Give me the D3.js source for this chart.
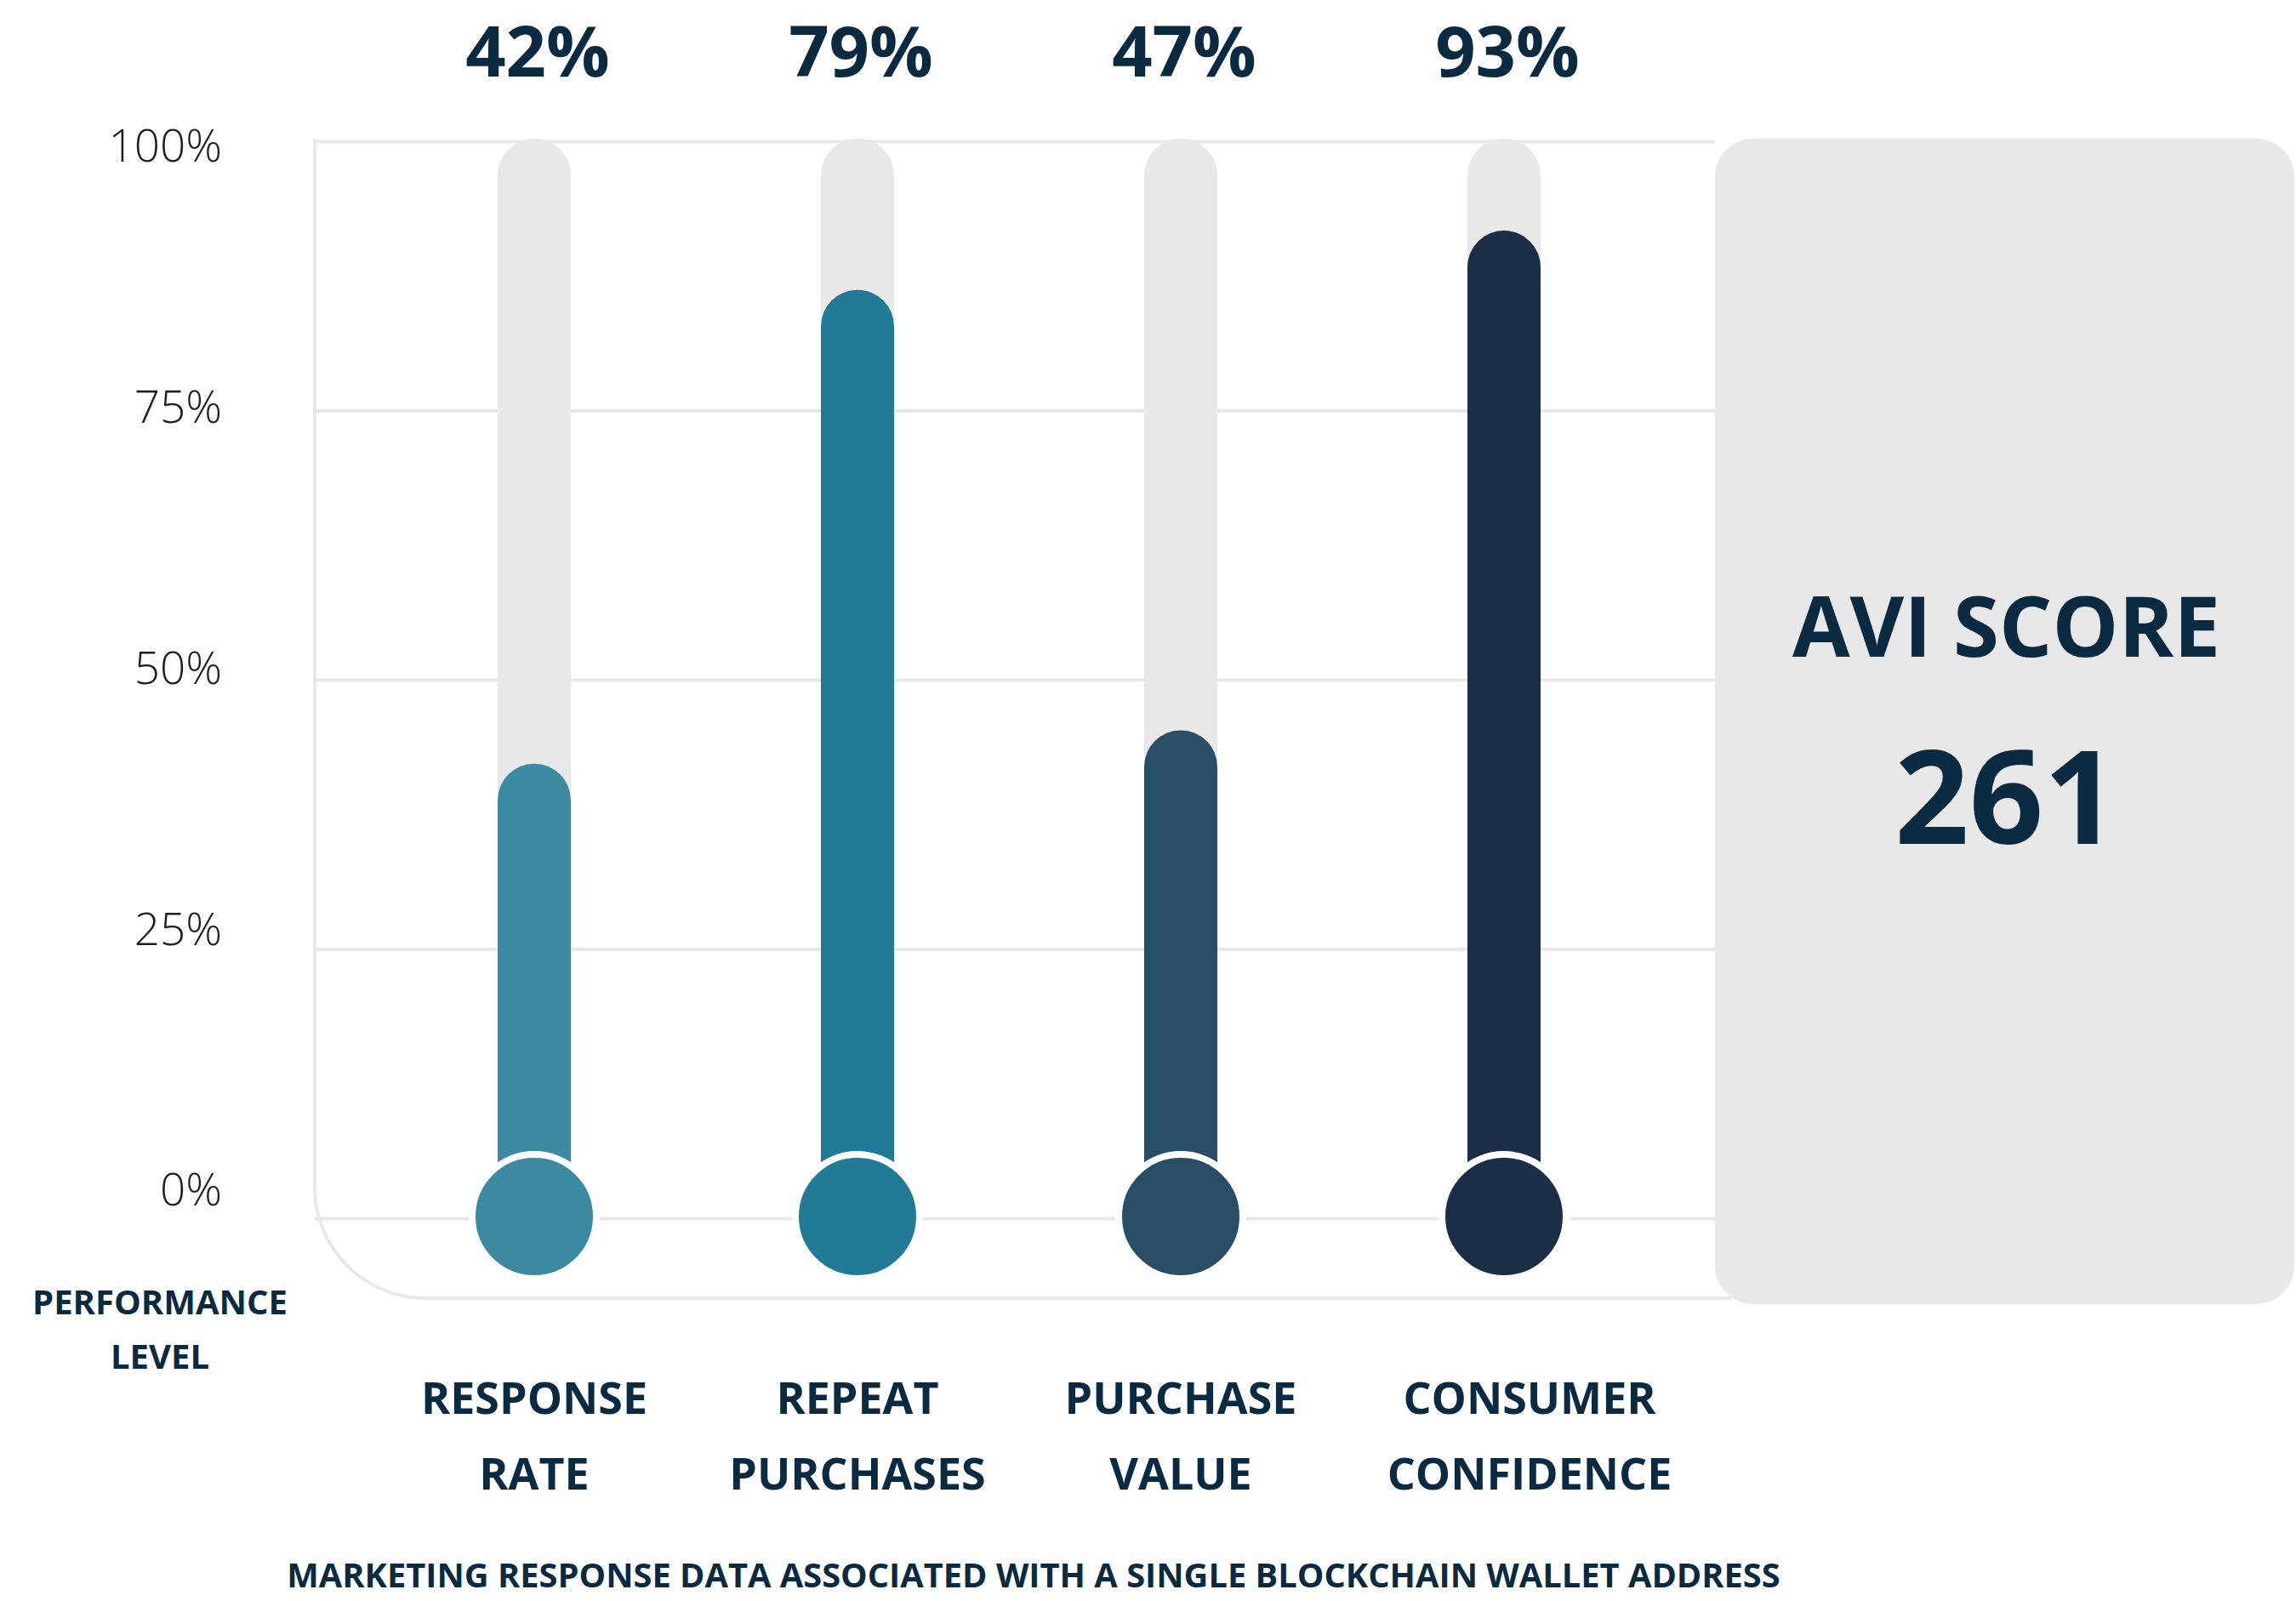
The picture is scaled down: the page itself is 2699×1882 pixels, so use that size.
<!DOCTYPE html>
<html>
<head>
<meta charset="utf-8">
<script src="https://cdn.jsdelivr.net/npm/d3@7"></script>
<style>
  html, body { margin: 0; padding: 0; background: #ffffff; }
  svg { display: block; font-family: "Open Sans", "Noto Sans", sans-serif; }
</style>
</head>
<body>
<div id="chart"></div>
<script>
// values
const categories = ["Response Rate", "Repeat Purchases", "Purchase Value", "Consumer Confidence"];
const categoryLines = [["RESPONSE", "RATE"], ["REPEAT", "PURCHASES"], ["PURCHASE", "VALUE"], ["CONSUMER", "CONFIDENCE"]];
const barLevels = [42.2, 86.2, 45.3, 91.7];      // height of the filled bar, as drawn
const headlineLabels = ["42%", "79%", "47%", "93%"]; // numbers printed above each bar
const yTicks = [0, 25, 50, 75, 100];
const scoreTitle = "AVI SCORE";
const scoreValue = 261;
const axisTitle = ["PERFORMANCE", "LEVEL"];
const caption = "MARKETING RESPONSE DATA ASSOCIATED WITH A SINGLE BLOCKCHAIN WALLET ADDRESS";

window.onload = function() {
    const width = 2699;
    const height = 1882;

    const navy = "#0a2a41";
    const track = "#e8e8e8";
    const palette = ["#3b8aa1", "#227b96", "#284d66", "#1a2e46"];

    const plotLeft = 370;
    const plotRight = 2016;
    const frameBottom = 1526;
    const barWidth = 86;
    const bulbR = 73;
    const labelNudge = [0, 0, 0, 30];

    const svg = d3.select("#chart")
                  .append("svg")
                  .attr("width", width)
                  .attr("height", height);

    const x = d3.scalePoint()
                .domain(categories)
                .range([628, 1768]);

    const y = d3.scaleLinear()
                .domain([0, 100])
                .range([1432, 166]);

    // tick labels sit on a slightly tighter spacing than the grid in the original
    const yLabel = d3.scaleLinear()
                     .domain([0, 100])
                     .range([1400, 173]);

    // grid
    svg.append("g")
       .attr("transform", `translate(${plotLeft},0)`)
       .call(d3.axisLeft(y).tickValues(yTicks).tickSize(-(plotRight - plotLeft)).tickFormat(""))
       .call(g => g.select(".domain").remove())
       .call(g => g.selectAll("line").attr("stroke", track).attr("stroke-width", 4));

    // left / bottom frame with rounded corner
    const frame = d3.path();
    const cr = 130;
    frame.moveTo(plotLeft, 163);
    frame.lineTo(plotLeft, frameBottom - cr);
    frame.arcTo(plotLeft, frameBottom, plotLeft + cr, frameBottom, cr);
    frame.lineTo(plotRight + 20, frameBottom);
    svg.append("path")
       .attr("d", frame.toString())
       .attr("fill", "none")
       .attr("stroke", track)
       .attr("stroke-width", 4);

    // tick labels
    svg.append("g")
       .attr("transform", "translate(261,0)")
       .call(d3.axisLeft(yLabel).tickValues(yTicks).tickSize(0).tickPadding(0).tickFormat(d => d + "%"))
       .call(g => g.select(".domain").remove())
       .call(g => g.selectAll("text")
                   .attr("font-family", "'Open Sans', sans-serif")
                   .attr("font-size", 53)
                   .attr("font-weight", 300)
                   .attr("fill", "#1e1e1e"));

    // score panel
    svg.append("rect")
       .attr("x", plotRight)
       .attr("y", 163)
       .attr("width", width - 2 - plotRight)
       .attr("height", 1533 - 163)
       .attr("rx", 45)
       .attr("fill", track);

    const panelMid = (plotRight + width - 2) / 2;
    svg.append("text")
       .attr("x", panelMid + 2)
       .attr("y", 772)
       .attr("text-anchor", "middle")
       .attr("font-size", 98)
       .attr("font-weight", 700)
       .attr("fill", navy)
       .text(scoreTitle);

    svg.append("text")
       .attr("x", panelMid + 2)
       .attr("y", 992)
       .attr("text-anchor", "middle")
       .attr("font-size", 153)
       .attr("font-weight", 700)
       .attr("fill", navy)
       .text(scoreValue);

    // tracks
    svg.selectAll("rect.track")
       .data(categories)
       .enter()
       .append("rect")
       .attr("class", "track")
       .attr("x", d => x(d) - barWidth / 2)
       .attr("y", y(100) - 3)
       .attr("width", barWidth)
       .attr("height", y(0) - y(100) + 3)
       .attr("rx", barWidth / 2)
       .attr("fill", track);

    // filled bars
    svg.selectAll("rect.bar")
       .data(categories)
       .enter()
       .append("rect")
       .attr("class", "bar")
       .attr("x", d => x(d) - barWidth / 2)
       .attr("y", (d, i) => y(barLevels[i]))
       .attr("width", barWidth)
       .attr("height", (d, i) => y(0) - y(barLevels[i]))
       .attr("rx", barWidth / 2)
       .attr("fill", (d, i) => palette[i]);

    // bulbs
    svg.selectAll("circle.bulb")
       .data(categories)
       .enter()
       .append("circle")
       .attr("class", "bulb")
       .attr("cx", d => x(d))
       .attr("cy", y(0) - 2)
       .attr("r", bulbR)
       .attr("fill", (d, i) => palette[i])
       .attr("stroke", "#ffffff")
       .attr("stroke-width", 8);

    // headline percentages
    svg.selectAll("text.headline")
       .data(categories)
       .enter()
       .append("text")
       .attr("class", "headline")
       .attr("x", d => x(d) + 4)
       .attr("y", 90)
       .attr("text-anchor", "middle")
       .attr("font-size", 83)
       .attr("font-weight", 700)
       .attr("fill", navy)
       .text((d, i) => headlineLabels[i]);

    // category labels
    const catLabels = svg.selectAll("text.cat")
                         .data(categories)
                         .enter()
                         .append("text")
                         .attr("class", "cat")
                         .attr("text-anchor", "middle")
                         .attr("font-size", 52)
                         .attr("font-weight", 700)
                         .attr("fill", navy);

    catLabels.each(function(d, i) {
        const t = d3.select(this);
        categoryLines[i].forEach((line, k) => {
            t.append("tspan")
             .attr("x", x(d) + labelNudge[i])
             .attr("y", 1662 + k * 89)
             .text(line);
        });
    });

    // axis title
    const at = svg.append("text")
                  .attr("text-anchor", "middle")
                  .attr("font-size", 40)
                  .attr("font-weight", 700)
                  .attr("fill", navy);
    axisTitle.forEach((line, k) => {
        at.append("tspan")
          .attr("x", 188)
          .attr("y", 1545 + k * 64)
          .text(line);
    });

    // caption
    svg.append("text")
       .attr("x", 1215)
       .attr("y", 1866)
       .attr("text-anchor", "middle")
       .attr("font-size", 39.8)
       .attr("font-weight", 700)
       .attr("fill", navy)
       .text(caption);
};
</script>
</body>
</html>
